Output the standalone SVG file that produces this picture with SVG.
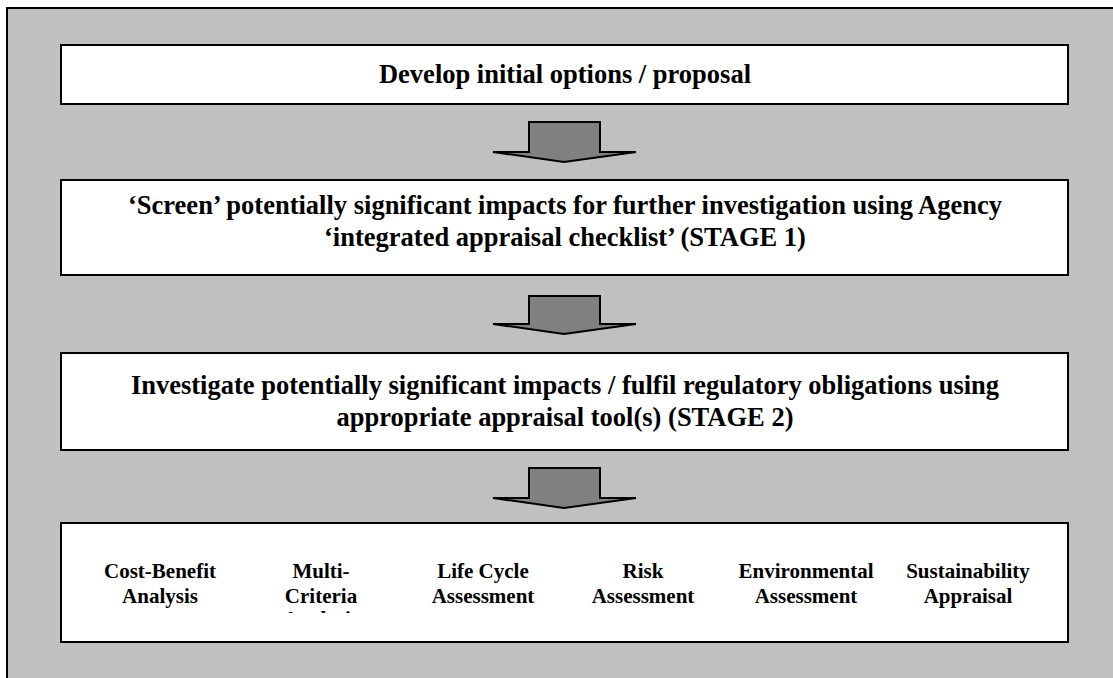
<svg xmlns="http://www.w3.org/2000/svg" width="1113" height="678" viewBox="0 0 1113 678">
  <defs>
    <style>
      .frame { fill: #c0c0c0; stroke: #000; stroke-width: 2; }
      .box { fill: #fff; stroke: #000; stroke-width: 2; }
      .flow { fill: #808080; stroke: #000; stroke-width: 2; stroke-linejoin: miter; }
      .t { font-family: "Liberation Serif", "Times New Roman", serif; font-weight: bold; fill: #000; text-anchor: middle; }
      .big { font-size: 26.5px; }
      .small { font-size: 21px; }
    </style>
    <!-- the tool list box only shows two lines per entry -->
    <clipPath id="toolClip">
      <rect x="62" y="524" width="1005" height="89"/>
    </clipPath>
  </defs>

  <!-- grey panel -->
  <rect class="frame" x="7" y="8" width="1120" height="690"/>

  <g id="connectors">
    <path class="flow" d="M529,122 H600 V152 H636 L564,162 L493,152 H529 Z"/>
    <path class="flow" d="M529,296 H600 V324 H636 L564,334 L493,324 H529 Z"/>
    <path class="flow" d="M529,468 H600 V498 H636 L564,508 L493,498 H529 Z"/>
  </g>

  <g id="develop">
    <rect class="box" x="61" y="45" width="1007" height="59"/>
    <text class="t big" x="565" y="83">Develop initial options / proposal</text>
  </g>

  <g id="screen">
    <rect class="box" x="61" y="180" width="1007" height="95"/>
    <text class="t big" x="565" y="214">‘Screen’ potentially significant impacts for further investigation using Agency</text>
    <text class="t big" x="565" y="246">‘integrated appraisal checklist’ (STAGE 1)</text>
  </g>

  <g id="investigate">
    <rect class="box" x="61" y="353" width="1007" height="97"/>
    <text class="t big" x="565" y="394">Investigate potentially significant impacts / fulfil regulatory obligations using</text>
    <text class="t big" x="565" y="426">appropriate appraisal tool(s) (STAGE 2)</text>
  </g>

  <g id="tools">
    <rect class="box" x="61" y="523" width="1007" height="119"/>
    <g clip-path="url(#toolClip)">
      <text class="t small" x="160" y="578">Cost-Benefit</text>
      <text class="t small" x="160" y="603">Analysis</text>
      <text class="t small" x="321" y="578">Multi-</text>
      <text class="t small" x="321" y="603">Criteria</text>
      <text class="t small" x="321" y="626">Analysis</text>
      <text class="t small" x="483" y="578">Life Cycle</text>
      <text class="t small" x="483" y="603">Assessment</text>
      <text class="t small" x="643" y="578">Risk</text>
      <text class="t small" x="643" y="603">Assessment</text>
      <text class="t small" x="806" y="578">Environmental</text>
      <text class="t small" x="806" y="603">Assessment</text>
      <text class="t small" x="968" y="578">Sustainability</text>
      <text class="t small" x="968" y="603">Appraisal</text>
    </g>
  </g>
</svg>
